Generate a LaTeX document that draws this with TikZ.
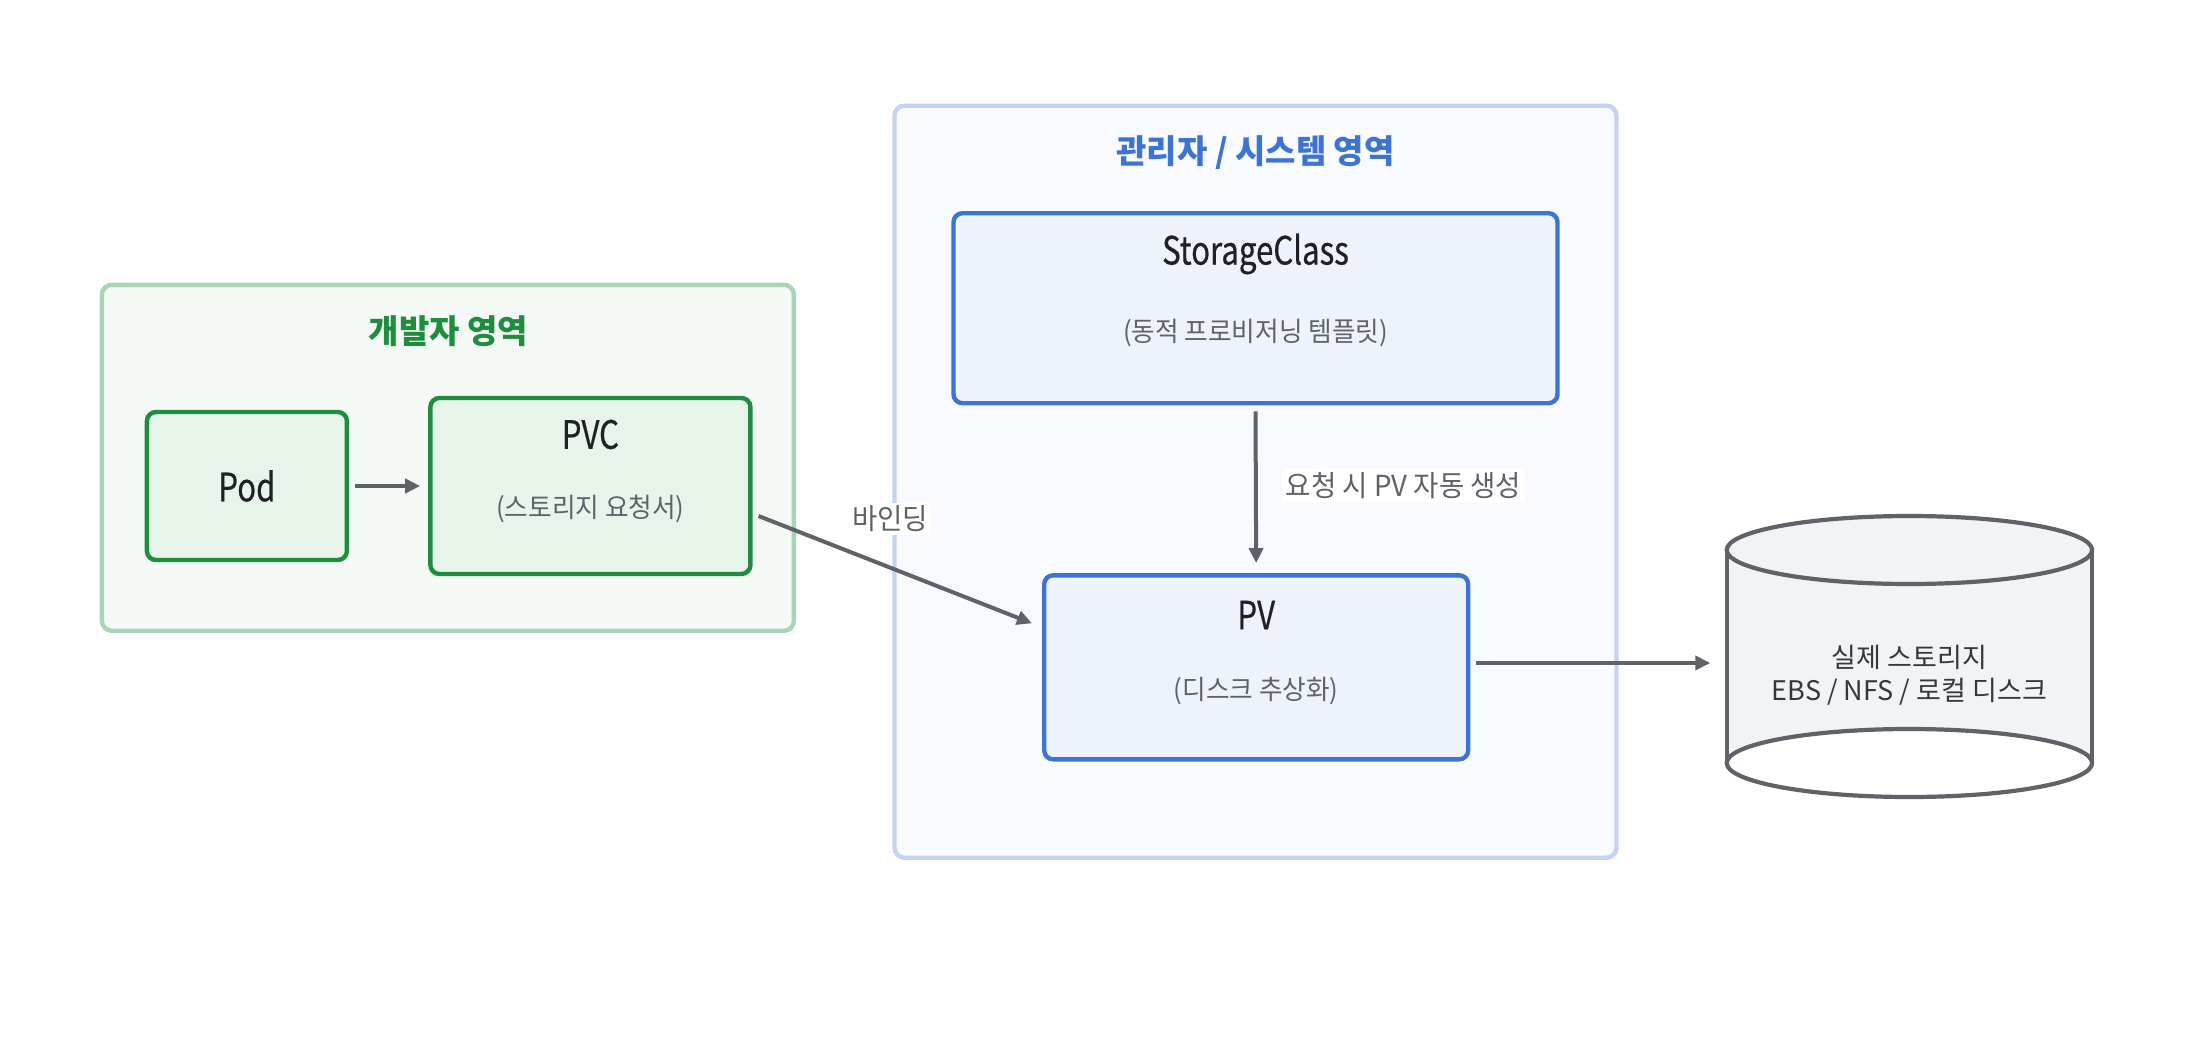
\documentclass[tikz,border=0pt]{standalone}
\usepackage{fontspec}
\setmainfont{Noto Sans CJK KR}
\newfontfamily\condf[FakeStretch=0.8,FakeBold=0.5]{Noto Sans CJK KR}
\newfontfamily\subf[FakeStretch=0.95]{Noto Sans CJK KR}
\usetikzlibrary{arrows.meta,calc}
\definecolor{gborder}{HTML}{1E8E3E}
\definecolor{gfill}{HTML}{E6F4EA}
\definecolor{gouter}{HTML}{A8D5B5}
\definecolor{goutfill}{HTML}{F4F9F5}
\definecolor{bborder}{HTML}{3C73D4}
\definecolor{bfill}{HTML}{EEF3FB}
\definecolor{bouter}{HTML}{C3D3F0}
\definecolor{boutfill}{HTML}{F8FAFF}
\definecolor{arrowc}{HTML}{5F6368}
\definecolor{subc}{HTML}{5F6368}
\definecolor{mainc}{HTML}{202124}
\definecolor{cylfill}{HTML}{F1F3F4}
\tikzset{
  outerbox/.style={draw, line width=2.2pt, rounded corners=5pt, inner sep=0pt},
  greenbox/.style={draw=gborder, fill=gfill, line width=2.2pt, rounded corners=4.5pt, inner sep=0pt},
  bluebox/.style={draw=bborder, fill=bfill, line width=2.2pt, rounded corners=4.5pt, inner sep=0pt},
  maintext/.style={text=mainc, font=\condf\fontsize{19.5}{22}\selectfont},
  subtext/.style={text=subc, font=\subf\fontsize{13.5}{16}\selectfont},
  edgelabel/.style={text=subc, fill=white, inner sep=1.5pt, font=\subf\fontsize{14.5}{17}\selectfont},
  conn/.style={draw=arrowc, line width=2pt, -{Triangle[length=7.5pt,width=7pt]}},
}
\begin{document}
\begin{tikzpicture}[x=0.5pt,y=-0.5pt]
\useasboundingbox[fill=white] (0,0) rectangle (2212,1044);
% developer area
\node[outerbox, draw=gouter, fill=goutfill, minimum width=346pt, minimum height=173pt] (devarea) at (447.9,457.8) {};
\node[text=gborder, font=\bfseries\fontsize{16.5}{19}\selectfont] (devtitle) at (448.6,331.5) {개발자 영역};
% admin area
\node[outerbox, draw=bouter, fill=boutfill, minimum width=361pt, minimum height=376pt] (admarea) at (1255.5,481.7) {};
\node[text=bborder, font=\bfseries\fontsize{16.5}{19}\selectfont] (admtitle) at (1255.5,152.4) {관리자 / 시스템 영역};
% pod
\node[greenbox, minimum width=100pt, minimum height=74pt] (pod) at (246.9,486) {};
\node[maintext] (podt) at (pod.center) {Pod};
% pvc
\node[greenbox, minimum width=160pt, minimum height=88pt] (pvc) at (590.4,486) {};
\node[maintext] (pvct) at (590.4,434.5) {PVC};
\node[subtext] (pvcs) at (590.4,509.3) {(스토리지 요청서)};
% storageclass
\node[bluebox, minimum width=302pt, minimum height=95pt] (sc) at (1255.5,308.2) {};
\node[maintext] (sct) at (1255.5,253.9) {StorageClass};
\node[subtext] (scs) at (1255.5,332.9) {(동적 프로비저닝 템플릿)};
% pv
\node[bluebox, minimum width=212pt, minimum height=92pt] (pv) at (1256.2,667.3) {};
\node[maintext] (pvt) at (1256.2,615.1) {PV};
\node[subtext] (pvs) at (1256.2,691.2) {(디스크 추상화)};
% cylinder
\fill[cylfill] (1726.7,550) -- (1726.7,763) arc[start angle=180,end angle=360,x radius=182.7,y radius=34] -- (2092.1,550) -- cycle;
\fill[cylfill] (1909.4,550) ellipse[x radius=182.7,y radius=34];
\draw[arrowc, line width=2.1pt] (1726.7,550) -- (1726.7,763) (2092.1,550) -- (2092.1,763);
\draw[arrowc, line width=2.1pt] (1909.4,550) ellipse[x radius=182.7,y radius=34];
\draw[arrowc, line width=2.1pt] (1909.4,763) ellipse[x radius=182.7,y radius=34];
\node[minimum width=182.7pt, minimum height=140pt, inner sep=0pt] (cyl) at (1909.4,656.5) {};
\node[text=mainc!90, align=center, font=\fontsize{13.5}{16.3}\selectfont] (cylt) at (1909.4,675) {실제 스토리지\\EBS / NFS / 로컬 디스크};
% connectors
\draw[conn, shorten <=3pt, shorten >=4pt] (pod.east) -- (pvc.west);
\draw[conn, shorten <=3pt, shorten >=5pt] (sc.south) -- (pv.north);
\draw[conn, shorten <=3pt, shorten >=8pt] (pv.east |- 0,663) -- (cyl.west |- 0,663);
\coordinate (bstart) at ([shift={(6,30)}]pvc.east);
\coordinate (bend) at ([shift={(-10,-44)}]pv.west);
\draw[conn] (bstart) -- (bend);
\node[edgelabel] (bindlbl) at (890.1,519.1) {바인딩};
\node[edgelabel] (reqlbl) at (1403.6,485.3) {요청 시 PV 자동 생성};
\end{tikzpicture}
\end{document}
